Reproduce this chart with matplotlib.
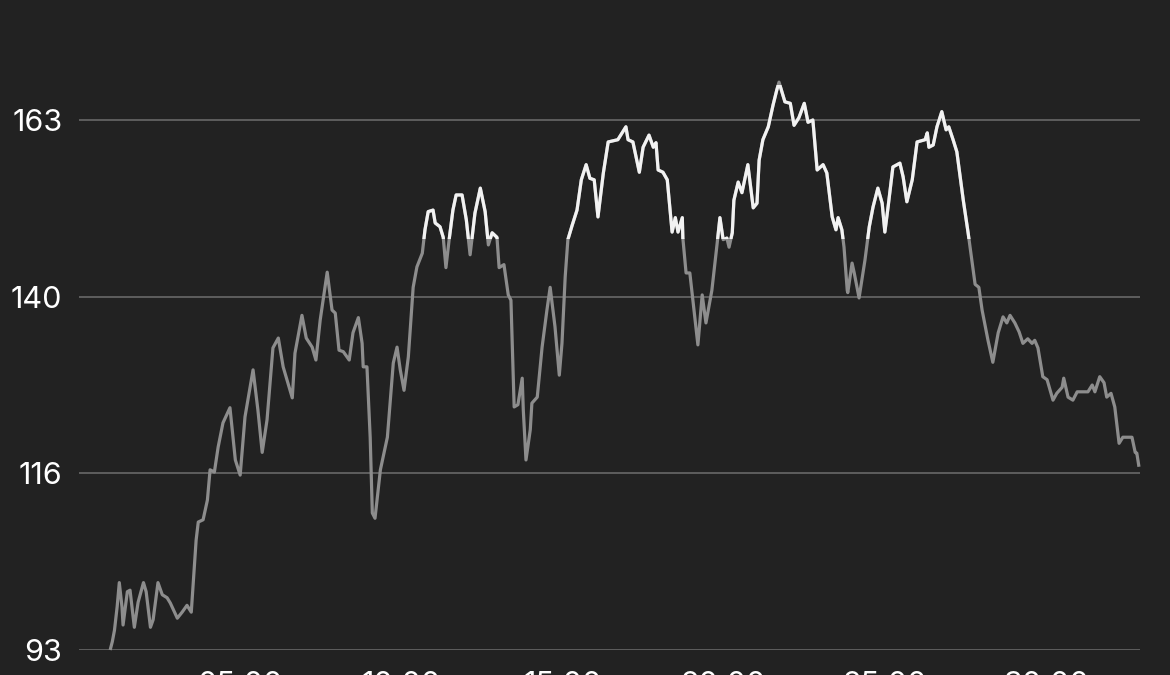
import matplotlib
matplotlib.use("Agg")
import matplotlib.pyplot as plt
from matplotlib.patches import Rectangle

# elapsed time (s) and heart rate (bpm)
time_s = [58, 62, 66, 71, 75, 80, 82, 90, 95, 103, 110, 120, 125, 133, 138, 147, 155, 164, 170, 183,
          192, 201, 209, 213, 218, 222, 231, 239, 244, 252, 259, 268, 281, 291, 300, 309, 324, 333, 341, 350,
          361, 371, 380, 397, 402, 415, 423, 434, 441, 449, 462, 471, 477, 484, 492, 503, 510, 520, 527, 529,
          536, 542, 546, 551, 561, 574, 579, 585, 592, 598, 605, 613, 622, 629, 639, 644, 650, 659, 663, 672,
          678, 683, 689, 696, 702, 713, 721, 728, 737, 747, 756, 762, 769, 778, 782, 791, 799, 804, 808, 810,
          817, 825, 827, 832, 840, 843, 853, 862, 871, 877, 886, 894, 899, 905, 910, 918, 927, 935, 944, 951,
          959, 966, 976, 985, 1003, 1011, 1018, 1022, 1031, 1043, 1050, 1061, 1069, 1074, 1078, 1087, 1095, 1104, 1110, 1115,
          1123, 1124, 1130, 1137, 1143, 1152, 1160, 1167, 1178, 1188, 1193, 1199, 1206, 1210, 1216, 1219, 1227, 1234, 1245, 1255,
          1262, 1266, 1273, 1283, 1292, 1299, 1303, 1309, 1314, 1324, 1331, 1340, 1350, 1357, 1366, 1374, 1385, 1392, 1402, 1409,
          1413, 1420, 1424, 1430, 1431, 1439, 1443, 1452, 1463, 1471, 1478, 1487, 1495, 1500, 1506, 1515, 1528, 1534, 1541, 1551,
          1560, 1575, 1579, 1582, 1590, 1597, 1606, 1614, 1619, 1627, 1634, 1646, 1655, 1668, 1675, 1681, 1692, 1701, 1711, 1720,
          1727, 1733, 1742, 1750, 1757, 1766, 1774, 1779, 1785, 1794, 1802, 1813, 1820, 1830, 1833, 1841, 1850, 1858, 1878, 1886,
          1891, 1900, 1908, 1913, 1921, 1928, 1936, 1943, 1960, 1966, 1969, 1973]
heart_rate = [93.0, 94.1, 95.6, 98.7, 101.9, 98.7, 96.3, 100.7, 100.9, 96.0, 99.3, 101.9, 100.7, 96.0, 97.0, 101.9, 100.3, 99.9, 99.2, 97.2,
              98.0, 98.9, 98.0, 102.2, 107.5, 109.9, 110.2, 112.8, 116.8, 116.5, 119.8, 123.0, 125.0, 118.1, 116.1, 123.8, 130.0, 124.7, 119.1, 123.4,
              132.9, 134.2, 130.4, 126.3, 132.2, 137.2, 134.2, 133.0, 131.3, 136.6, 142.9, 137.9, 137.5, 132.6, 132.4, 131.3, 134.9, 136.9, 133.5, 130.4,
              130.4, 121.1, 111.1, 110.4, 116.8, 121.1, 125.6, 130.9, 133.0, 130.0, 127.3, 131.7, 140.9, 143.6, 145.4, 148.5, 150.9, 151.1, 149.4, 148.9,
              147.5, 143.5, 147.2, 151.1, 153.1, 153.1, 149.8, 145.2, 150.7, 154.0, 150.9, 146.5, 148.1, 147.5, 143.5, 143.9, 139.9, 139.2, 130.0, 125.1,
              125.4, 128.9, 124.7, 118.1, 122.1, 125.6, 126.4, 133.0, 137.9, 140.9, 135.7, 129.3, 133.5, 142.3, 147.2, 149.1, 151.1, 155.1, 157.1, 155.3,
              155.1, 150.2, 156.0, 160.1, 160.4, 161.3, 162.1, 160.4, 160.1, 156.1, 159.4, 161.0, 159.4, 160.0, 156.4, 156.1, 155.1, 148.2, 150.1, 148.2,
              150.1, 147.4, 142.8, 142.8, 139.0, 133.3, 139.9, 136.2, 140.5, 146.8, 150.1, 147.2, 147.4, 146.2, 148.1, 152.4, 154.8, 153.4, 157.1, 151.4,
              152.0, 157.7, 160.4, 162.1, 165.0, 167.0, 168.0, 166.6, 165.4, 165.2, 162.3, 163.3, 165.2, 162.7, 163.0, 156.4, 157.1, 156.0, 150.2, 148.5,
              150.1, 148.5, 146.2, 140.5, 140.2, 144.1, 142.8, 139.5, 144.5, 148.9, 151.5, 154.0, 152.0, 148.2, 151.5, 156.8, 157.3, 155.5, 152.2, 155.1,
              160.1, 160.4, 161.3, 159.4, 159.7, 162.1, 164.1, 161.7, 162.1, 160.4, 158.8, 152.4, 148.1, 141.3, 140.9, 137.9, 133.9, 131.0, 134.9, 137.0,
              136.2, 137.2, 136.2, 135.0, 133.5, 134.1, 133.5, 133.9, 132.9, 129.1, 128.7, 126.0, 126.9, 127.7, 128.9, 126.4, 126.0, 127.1, 127.1, 128.0,
              127.1, 129.1, 128.3, 126.4, 126.9, 125.1, 120.3, 121.1, 121.1, 119.1, 119.0, 117.2]

y_ticks = [93, 93 + 70 / 3, 93 + 140 / 3, 163]
y_tick_labels = ["93", "116", "140", "163"]
x_ticks = [300, 600, 900, 1200, 1500, 1800]
x_tick_labels = ["05:00", "10:00", "15:00", "20:00", "25:00", "30:00"]
high_threshold = 147.3
peak_threshold = 167.6

BG = "#222222"
W, H = 1170, 675
fig = plt.figure(figsize=(W / 100, H / 100), dpi=100, facecolor=BG)
ax = fig.add_axes([79 / W, 25 / H, (1140 - 79) / W, 610 / H], facecolor=BG)

ymin = 93
ymax = 93 + 610 / (530 / 70)
xmax = (1140 - 78.8) / 32.24 * 60
ax.set_xlim(0, xmax)
ax.set_ylim(ymin, ymax)

for yt in y_ticks:
    ax.axhline(yt, color="#6e6e6e", lw=1.1, zorder=1)

lw = 2.3
gray_line, = ax.plot(time_s, heart_rate, color="#8d8d8d", lw=lw, solid_joinstyle="round",
                     solid_capstyle="butt", zorder=3, clip_on=False)
white_line, = ax.plot(time_s, heart_rate, color="#f2f2f2", lw=lw, solid_joinstyle="round",
                      solid_capstyle="butt", zorder=4, clip_on=False)
clip_white = Rectangle((-100, high_threshold), xmax + 200, peak_threshold - high_threshold,
                       transform=ax.transData, facecolor="none", edgecolor="none")
ax.add_patch(clip_white)
white_line.set_clip_path(clip_white)
white_line.set_clip_on(True)

ax.set_yticks(y_ticks)
ax.set_yticklabels(y_tick_labels)
ax.set_xticks(x_ticks)
ax.set_xticklabels(x_tick_labels)
for s in ax.spines.values():
    s.set_visible(False)
ax.tick_params(axis="both", length=0, colors="#ffffff", labelsize=22)
ax.tick_params(axis="y", pad=12)
ax.tick_params(axis="x", pad=15)
for lab in ax.get_xticklabels() + ax.get_yticklabels():
    lab.set_family(["Inter", "DejaVu Sans"])
    lab.set_color("#ffffff")

fig.savefig("out.png", dpi=100, facecolor=BG)
